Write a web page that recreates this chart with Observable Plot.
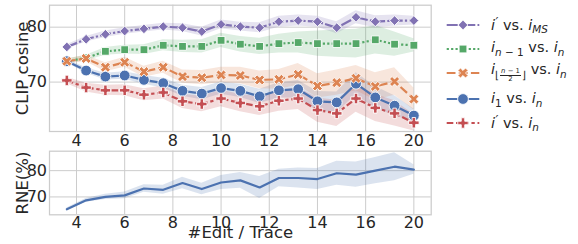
<!DOCTYPE html>
<html><head><meta charset="utf-8">
<script src="https://cdn.jsdelivr.net/npm/d3@7"></script>
<script src="https://cdn.jsdelivr.net/npm/@observablehq/plot@0.6"></script>
<style>
body{margin:0;width:578px;height:244px;position:relative;overflow:hidden;background:#fff;font-family:"DejaVu Sans",sans-serif;color:#262626}
.pane{position:absolute;left:0}
.row{position:absolute;left:444px;height:24px;display:flex;align-items:center;white-space:nowrap}
.lab{position:absolute;left:47px;font-size:14.5px;line-height:1;}
.m{font-style:italic}
.pr{font-size:85%;vertical-align:0.3em;margin-left:0.5px}
.sub{font-size:72%;vertical-align:-0.35em}
.fwrap{display:inline-flex;align-items:center;vertical-align:-0.55em;font-size:72%}
.fr{display:inline-flex;flex-direction:column;align-items:center;font-size:66%;line-height:1.05;margin:0 1px}
.num{border-bottom:0.8px solid #262626;padding:0 1px}
</style></head><body>
<div id="top" class="pane" style="top:0"></div>
<div id="bot" class="pane" style="top:146px"></div>
<div id="legend"></div>
<script>
// x positions of the 19 bins and axis tick labels
const xs = [3.6, 4.4, 5.2, 6.0, 6.8, 7.6, 8.4, 9.2, 10.0, 10.8, 11.6, 12.4, 13.2, 14.0, 14.8, 15.6, 16.4, 17.2, 18.0];
const xTickValues = [4, 6, 8, 10, 12, 14, 16, 18];
const xTickLabels = ["4", "6", "8", "10", "12", "14", "16", "20"];
const yTicksTop = [70, 80];
const yTicksBot = [70, 80];

// CLIP cosine series (mean) and CI half-widths
const iPrimeVsMS   = [76.4, 77.8, 78.7, 79.3, 79.7, 80.1, 79.9, 79.2, 80.5, 80.1, 79.9, 81.0, 81.2, 81.0, 79.9, 81.8, 81.0, 81.2, 81.2];
const iPrimeVsMSci = [0.4, 0.5, 0.6, 0.6, 0.6, 0.6, 0.7, 0.8, 0.8, 0.8, 0.9, 1.0, 1.0, 1.0, 1.1, 1.2, 1.1, 1.0, 0.8];
const prevVsN      = [73.8, 74.4, 75.6, 75.9, 75.9, 76.7, 76.5, 76.5, 77.6, 76.9, 76.5, 77.0, 77.2, 77.0, 77.0, 77.0, 77.7, 76.9, 76.7];
const prevVsNci    = [0.4, 0.5, 0.7, 0.8, 0.9, 1.0, 1.1, 1.2, 1.3, 1.4, 1.5, 1.7, 1.9, 2.3, 2.5, 2.6, 2.6, 2.2, 1.2];
const midVsN       = [73.8, 74.3, 72.7, 73.6, 71.9, 72.7, 71.0, 70.8, 71.3, 71.2, 70.4, 70.5, 71.4, 69.3, 69.9, 70.7, 69.2, 70.1, 66.9];
const midVsNci     = [0.4, 0.6, 0.8, 0.9, 1.0, 1.1, 1.2, 1.3, 1.4, 1.5, 1.6, 1.8, 2.0, 2.2, 2.3, 2.3, 2.5, 2.5, 2.0];
const firstVsN     = [73.8, 72.1, 71.0, 71.2, 70.4, 69.8, 68.4, 67.9, 68.9, 68.4, 67.4, 68.5, 68.7, 66.5, 66.3, 69.7, 67.2, 65.7, 63.9];
const firstVsNci   = [0.3, 0.5, 0.6, 0.7, 0.8, 0.9, 1.0, 1.1, 1.1, 1.2, 1.3, 1.4, 1.6, 1.8, 1.9, 2.0, 2.0, 1.8, 1.2];
const iPrimeVsN    = [70.3, 69.0, 68.5, 68.5, 67.7, 68.1, 66.5, 66.0, 67.0, 66.2, 65.6, 66.6, 67.0, 64.9, 64.3, 67.0, 65.3, 64.3, 62.6];
const iPrimeVsNci  = [0.6, 0.8, 0.9, 1.0, 1.1, 1.2, 1.3, 1.4, 1.5, 1.6, 1.7, 1.9, 2.0, 2.2, 2.4, 2.5, 2.5, 2.3, 1.5];

// RNE (%)
const rne   = [65.3, 68.7, 70.0, 70.6, 73.2, 72.7, 75.3, 73.0, 75.5, 76.3, 73.6, 77.2, 77.2, 76.8, 79.0, 78.5, 80.0, 81.5, 80.4];
const rneCi = [0.5, 0.7, 1.0, 1.3, 1.4, 1.7, 2.2, 2.2, 2.7, 3.0, 4.2, 3.3, 3.8, 4.0, 4.6, 4.8, 5.0, 5.3, 1.8];

// filled "X" marker (rotated cross)
const symbolX = {draw(ctx, size) {
  const r = Math.sqrt(size / 5) / 2, c = Math.SQRT1_2;
  const pts = [[-3*r,-r],[-r,-r],[-r,-3*r],[r,-3*r],[r,-r],[3*r,-r],[3*r,r],[r,r],[r,3*r],[-r,3*r],[-r,r],[-3*r,r]];
  pts.forEach(([x, y], i) => { const X = (x - y) * c, Y = (x + y) * c; i ? ctx.lineTo(X, Y) : ctx.moveTo(X, Y); });
  ctx.closePath();
}};

const lw = 2.2;
const series = [
  {key: "purple", y: iPrimeVsMS, ci: iPrimeVsMSci, color: "#8172b3", dash: [5,1,1,1], symbol: "diamond2", r: 4.4},
  {key: "green",  y: prevVsN,    ci: prevVsNci,    color: "#55a868", dash: [1,1],     symbol: "square",   r: 4.4},
  {key: "blue",   y: firstVsN,   ci: firstVsNci,   color: "#4c72b0", dash: null,      symbol: "circle",   r: 5.4},
  {key: "orange", y: midVsN,     ci: midVsNci,     color: "#dd8452", dash: [4,1.5],   symbol: symbolX,    r: 4.5},
  {key: "red",    y: iPrimeVsN,  ci: iPrimeVsNci,  color: "#c44e52", dash: [3,1.25,1.5,1.25], symbol: "cross", r: 4.4}
];
const dashStr = s => s.dash ? s.dash.map(d => d * lw).join(",") : null;

const font = {fontFamily: "DejaVu Sans", fontSize: "16px", color: "#262626", background: "transparent", overflow: "visible"};
const xScale = {domain: [2.88, 18.72]};
const tickMap = new Map(xTickValues.map((v, i) => [v, xTickLabels[i]]));

const rows = s => xs.map((x, i) => ({x, y: s.y[i], lo: s.y[i] - s.ci[i], hi: s.y[i] + s.ci[i]}));

const topMarks = [
  Plot.gridX(xTickValues, {stroke: "#cccccc", strokeOpacity: 1, strokeWidth: 1}),
  Plot.gridY(yTicksTop, {stroke: "#cccccc", strokeOpacity: 1, strokeWidth: 1}),
  ...series.map(s => Plot.areaY(rows(s), {x: "x", y1: "lo", y2: "hi", fill: s.color, fillOpacity: 0.2})),
  ...series.flatMap(s => [
    Plot.line(rows(s), {x: "x", y: "y", stroke: s.color, strokeWidth: lw, strokeDasharray: dashStr(s), strokeLinecap: "butt", strokeLinejoin: "round"}),
    Plot.dot(rows(s), {x: "x", y: "y", symbol: s.symbol, r: s.r, fill: s.color, stroke: "white", strokeWidth: 0.9})
  ]),
  Plot.frame({stroke: "#cccccc", strokeWidth: 1.25}),
  Plot.axisX(xTickValues, {tickSize: 0, tickPadding: 3, tickFormat: d => tickMap.get(d), label: null, fill: "#262626"}),
  Plot.axisY(yTicksTop, {tickSize: 0, tickPadding: 2.5, label: null, fill: "#262626"}),
  Plot.text(["CLIP cosine"], {text: d => d, frameAnchor: "left", textAnchor: "middle", lineAnchor: "middle", rotate: -90, dx: -27, fontSize: 16.5, fill: "#262626"})
];
document.getElementById("top").append(Plot.plot({
  width: 440, height: 150, marginLeft: 49, marginRight: 9.3, marginTop: 4.7, marginBottom: 19,
  style: font, x: xScale, y: {domain: [61.0, 84.0]}, marks: topMarks
}));

const rneRows = xs.map((x, i) => ({x, y: rne[i], lo: rne[i] - rneCi[i], hi: rne[i] + rneCi[i]}));
document.getElementById("bot").append(Plot.plot({
  width: 440, height: 98, marginLeft: 49, marginRight: 9.3, marginTop: 4.7, marginBottom: 29.7,
  style: font, x: xScale, y: {domain: [63.2, 87.4]},
  marks: [
    Plot.gridX(xTickValues, {stroke: "#cccccc", strokeOpacity: 1, strokeWidth: 1}),
    Plot.gridY(yTicksBot, {stroke: "#cccccc", strokeOpacity: 1, strokeWidth: 1}),
    Plot.areaY(rneRows, {x: "x", y1: "lo", y2: "hi", fill: "#4c72b0", fillOpacity: 0.2}),
    Plot.line(rneRows, {x: "x", y: "y", stroke: "#4c72b0", strokeWidth: lw}),
    Plot.frame({stroke: "#cccccc", strokeWidth: 1.25}),
    Plot.axisX(xTickValues, {tickSize: 0, tickPadding: 2, tickFormat: d => tickMap.get(d), label: null, fill: "#262626"}),
    Plot.axisY(yTicksBot, {tickSize: 0, tickPadding: 2.5, label: null, fill: "#262626"}),
    Plot.text(["RNE(%)"], {text: d => d, frameAnchor: "left", textAnchor: "middle", lineAnchor: "middle", rotate: -90, dx: -27, fontSize: 16.5, fill: "#262626"}),
    Plot.text(["#Edit / Trace"], {text: d => d, frameAnchor: "bottom", textAnchor: "middle", lineAnchor: "middle", dy: 18.4, fontSize: 16.5, fill: "#262626"})
  ]
}));

// legend
const legendOrder = ["purple", "green", "orange", "blue", "red"];
const legendLabels = [
  '<span class="m">i</span><span class="pr m">′</span> vs. <span class="m">i</span><span class="sub m">MS</span>',
  '<span class="m">i</span><span class="sub"><span class="m">n</span> − 1</span> vs. <span class="m">i</span><span class="sub m">n</span>',
  '<span class="m">i</span><span class="fwrap">⌊<span class="fr"><span class="num"><span class="m">n</span> − 1</span><span>2</span></span>⌋</span> vs. <span class="m">i</span><span class="sub m">n</span>',
  '<span class="m">i</span><span class="sub">1</span> vs. <span class="m">i</span><span class="sub m">n</span>',
  '<span class="m">i</span><span class="pr m">′</span> vs. <span class="m">i</span><span class="sub m">n</span>'
];
const legendY = [25, 49, 72.5, 99.3, 123.3];
const leg = document.getElementById("legend");
legendOrder.forEach((k, i) => {
  const s = series.find(d => d.key === k);
  const row = document.createElement("div");
  row.className = "row";
  row.style.top = (legendY[i] - 12) + "px";
  const sym = typeof s.symbol === "string" ? {circle: d3.symbolCircle, square: d3.symbolSquare, diamond2: d3.symbolDiamond2, cross: d3.symbolCross}[s.symbol] : s.symbol;
  const path = d3.symbol(sym, Math.PI * s.r * s.r)();
  row.innerHTML = `<svg width="40" height="24" style="overflow:visible"><line x1="2.7" x2="35.3" y1="12" y2="12" stroke="${s.color}" stroke-width="${lw}" ${s.dash ? `stroke-dasharray="${dashStr(s)}"` : ""}/><path d="${path}" transform="translate(19,12)" fill="${s.color}" stroke="white" stroke-width="0.9"/></svg><span class="lab">${legendLabels[i]}</span>`;
  leg.append(row);
});
</script></body></html>
